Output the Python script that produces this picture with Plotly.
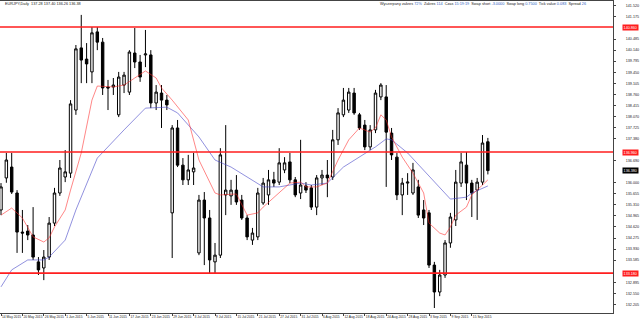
import plotly.graph_objects as go

symbol = "EURJPY,Daily"

opens = [135.15, 136.15, 136.49, 135.68, 134.46, 134.49, 134.37, 133.53, 133.34, 133.68,
         134.74, 135.68, 136.18, 136.30, 138.27, 140.21, 139.86, 139.46, 140.71, 140.39,
         138.99, 138.99, 138.12, 139.05, 138.83, 140.05, 139.77, 139.99, 139.99, 138.49,
         138.80, 138.58, 135.06, 137.71, 136.55, 136.09, 136.34, 133.81, 135.46, 134.90,
         133.53, 133.74, 135.62, 135.59, 135.77, 135.46, 134.90, 134.21, 134.31, 135.37,
         135.62, 136.09, 136.02, 136.40, 136.65, 136.09, 135.68, 135.90, 135.84, 135.24,
         136.15, 136.24, 136.18, 137.34, 138.12, 138.27, 138.80, 138.12, 137.80, 137.12,
         137.65, 138.68, 138.68, 137.55, 136.80, 135.62, 135.99, 135.68, 135.87, 135.15,
         135.06, 133.43, 132.59, 133.12, 134.12, 134.84, 135.99, 136.55, 135.99, 135.77,
         136.02, 137.28]
highs = [135.99, 136.93, 136.93, 135.77, 135.15, 134.68, 135.24, 133.68, 133.90, 134.93,
         135.84, 136.71, 137.02, 138.58, 140.30, 141.24, 140.36, 140.86, 140.86, 140.52,
         139.21, 139.27, 139.46, 139.46, 140.14, 140.83, 139.99, 140.77, 140.14, 139.05,
         139.05, 138.74, 137.80, 137.96, 136.77, 136.87, 136.93, 135.62, 135.71, 135.15,
         134.12, 137.08, 137.80, 136.09, 136.24, 135.62, 134.99, 134.59, 135.84, 136.15,
         136.40, 136.34, 137.08, 136.80, 136.93, 136.18, 137.34, 136.02, 135.93, 136.24,
         136.40, 136.71, 137.65, 138.33, 138.96, 138.96, 138.96, 138.18, 137.96, 137.80,
         138.90, 139.11, 139.05, 137.71, 136.93, 136.15, 136.30, 136.62, 136.09, 135.46,
         135.15, 133.53, 133.28, 134.21, 135.06, 136.40, 136.93, 136.96, 136.09, 136.15,
         137.49, 137.40]
lows = [134.99, 136.00, 135.65, 133.81, 133.81, 134.21, 133.59, 133.12, 132.96, 133.59,
        134.65, 135.59, 136.02, 136.15, 138.12, 139.11, 139.11, 139.11, 140.14, 138.74,
        138.27, 138.74, 138.05, 138.80, 138.74, 139.58, 139.15, 139.61, 138.33, 138.27,
        137.71, 138.27, 133.65, 136.49, 135.93, 135.93, 135.93, 133.74, 133.43, 133.18,
        133.18, 133.65, 134.99, 135.31, 135.31, 134.84, 134.21, 134.06, 134.21, 135.31,
        135.31, 135.87, 135.93, 136.30, 135.99, 135.55, 135.49, 135.68, 135.15, 134.99,
        135.93, 135.55, 136.09, 137.18, 138.05, 138.18, 138.12, 137.65, 137.02, 137.02,
        137.55, 138.58, 135.87, 136.71, 135.46, 134.99, 135.62, 135.62, 134.90, 134.68,
        133.34, 132.09, 132.46, 133.03, 133.97, 134.65, 135.87, 135.46, 134.93, 134.84,
        135.93, 136.26]
closes = [135.87, 136.71, 135.71, 134.46, 134.43, 134.37, 133.68, 133.28, 133.68, 134.74,
          135.68, 136.46, 136.34, 138.46, 140.18, 139.83, 139.71, 140.68, 140.39, 138.96,
          138.96, 139.05, 139.30, 139.36, 140.08, 139.77, 139.30, 140.02, 138.49, 138.83,
          138.58, 138.43, 137.71, 136.55, 136.09, 136.40, 136.46, 135.46, 134.90, 133.59,
          133.74, 136.87, 135.77, 135.77, 135.40, 134.90, 134.31, 134.43, 135.68, 135.99,
          136.09, 135.99, 136.62, 136.62, 136.09, 135.62, 135.93, 135.77, 135.24, 136.15,
          136.24, 136.15, 137.34, 138.18, 138.58, 138.83, 138.18, 137.71, 137.12, 137.65,
          138.80, 139.05, 137.58, 136.87, 135.62, 135.99, 136.02, 136.40, 134.99, 134.90,
          133.43, 132.59, 133.12, 134.12, 134.93, 136.02, 136.65, 135.99, 135.68, 136.02,
          137.24, 136.38]

# moving averages (bar index, value)
ma_fast_bars = [0, 2, 4, 6, 8, 9, 10, 12, 13, 15, 17, 18, 21, 23, 25, 27, 29, 30, 32, 35,
                37, 40, 41, 44, 46, 48, 49, 52, 54, 56, 57, 59, 61, 63, 65, 67, 69, 70, 71,
                72, 73, 75, 77, 79, 80, 82, 83, 84, 85, 87, 88, 90, 91]
ma_fast_vals = [134.99, 135.21, 134.90, 134.31, 134.15, 134.28, 134.62, 135.15, 135.77, 136.93,
                138.58, 139.02, 138.99, 139.05, 139.27, 139.49, 139.27, 138.96, 138.58, 137.96,
                136.71, 135.68, 135.62, 135.65, 134.99, 135.06, 135.24, 135.68, 135.99, 136.02,
                135.87, 135.87, 135.99, 136.71, 137.34, 137.71, 137.58, 137.71, 138.12,
                137.96, 137.43, 136.80, 136.30, 135.68, 134.74, 134.43, 134.37, 134.62, 134.99,
                135.24, 135.62, 135.93, 136.09]
ma_slow_bars = [0, 2, 5, 8, 9, 12, 14, 18, 23, 27, 31, 33, 37, 40, 43, 49, 52, 56, 58, 61,
                64, 67, 70, 72, 73, 76, 79, 82, 84, 87, 88, 91]
ma_slow_vals = [132.75, 133.28, 133.59, 133.59, 133.68, 134.21, 135.15, 136.77, 137.65, 138.33,
                138.36, 138.18, 137.43, 136.71, 136.49, 135.87, 135.87, 135.99, 135.93, 135.99,
                136.49, 136.80, 137.12, 137.37, 137.34, 136.93, 136.40, 135.87, 135.49, 135.55,
                135.68, 135.90]

levels = [140.86, 136.96, 133.18]

price_ticks = [141.520, 141.175, 140.485, 140.140, 139.795, 139.450, 139.105, 138.760,
               138.415, 138.070, 137.725, 137.380, 136.690, 136.000, 135.655, 135.310,
               134.965, 134.620, 134.275, 133.930, 133.585, 132.895, 132.550, 132.205]

date_bars = list(range(0, 92, 4))
date_labels = ["14 May 2015", "20 May 2015", "26 May 2015", "1 Jun 2015", "5 Jun 2015",
               "11 Jun 2015", "17 Jun 2015", "23 Jun 2015", "29 Jun 2015", "3 Jul 2015",
               "9 Jul 2015", "15 Jul 2015", "21 Jul 2015", "27 Jul 2015", "31 Jul 2015",
               "6 Aug 2015", "12 Aug 2015", "18 Aug 2015", "24 Aug 2015", "28 Aug 2015",
               "3 Sep 2015", "9 Sep 2015", "15 Sep 2015"]

info_pairs = [("Wyczerpany zakres", "72%"), ("Zakres", "114"), ("Czas", "15:19:19"),
              ("Swap short", "-3.0000"), ("Swap long", "0.7500"), ("Tick value", "0.083"),
              ("Spread", "26")]

FONT = "Liberation Sans Narrow, Liberation Sans, DejaVu Sans Condensed, sans-serif"
SMALL = 3.3
bars = list(range(len(opens)))

fig = go.Figure()
fig.add_trace(go.Candlestick(
    x=bars, open=opens, high=highs, low=lows, close=closes,
    increasing=dict(line=dict(color="black", width=1), fillcolor="white"),
    decreasing=dict(line=dict(color="black", width=1), fillcolor="black"),
    whiskerwidth=0, showlegend=False, hoverinfo="skip"))
fig.add_trace(go.Scatter(x=ma_slow_bars, y=ma_slow_vals, mode="lines",
                         line=dict(color="rgba(70,70,200,0.75)", width=0.8),
                         showlegend=False, hoverinfo="skip"))
fig.add_trace(go.Scatter(x=ma_fast_bars, y=ma_fast_vals, mode="lines",
                         line=dict(color="rgba(255,40,40,0.7)", width=0.8),
                         showlegend=False, hoverinfo="skip"))

for lv in levels:
    fig.add_shape(type="line", xref="paper", x0=0, x1=1, yref="y", y0=lv, y1=lv,
                  line=dict(color="rgb(255,30,30)", width=1.6))
    fig.add_annotation(xref="paper", x=639 / 613, xanchor="right", yref="y", y=lv,
                       text=f"{lv:.3f}", showarrow=False, bgcolor="rgb(255,30,30)",
                       font=dict(family=FONT, size=SMALL + 0.4, color="white"), borderpad=0.6)

fig.add_annotation(xref="paper", x=639 / 613, xanchor="right", yref="y", y=closes[-1],
                   text=f"{closes[-1]:.3f}", showarrow=False, bgcolor="black",
                   font=dict(family=FONT, size=SMALL + 0.4, color="white"), borderpad=0.6)

fig.add_annotation(xref="paper", x=3 / 613, xanchor="left", yref="paper", y=0.99,
                   yanchor="middle", showarrow=False,
                   text=f"{symbol}  {opens[-1]:.2f} {highs[-1]:.2f} {lows[-1]:.2f} {closes[-1]:.2f}",
                   font=dict(family=FONT, size=SMALL + 0.5, color="#222"))

info_text = "  ".join(f"{k} <span style='color:#3060c0'>{v}</span>" for k, v in info_pairs)
fig.add_annotation(xref="paper", x=588 / 613, xanchor="right", yref="paper", y=0.99,
                   yanchor="middle", showarrow=False, text=info_text,
                   font=dict(family=FONT, size=SMALL + 0.5, color="#222"))

fig.update_layout(
    width=640, height=323,
    margin=dict(l=0, r=27, t=1, b=10, autoexpand=False),
    paper_bgcolor="white", plot_bgcolor="white",
    boxgap=0.35,
    xaxis=dict(range=[-0.187, 114.39], rangeslider=dict(visible=False),
               showgrid=False, zeroline=False, showline=True, linecolor="#444",
               linewidth=1, mirror=True, tickmode="array", tickvals=date_bars,
               ticktext=date_labels, ticks="outside", ticklen=2, tickcolor="#444",
               tickangle=0, automargin=False,
               ticklabelposition="outside right",
               tickfont=dict(family=FONT, size=SMALL, color="#222")),
    yaxis=dict(range=[131.934, 141.674], side="right", showgrid=False, zeroline=False,
               showline=True, linecolor="#444", linewidth=1, mirror=True,
               tickmode="array", tickvals=price_ticks, automargin=False,
               ticktext=[f"{t:.3f}" for t in price_ticks], ticks="outside", ticklen=2,
               tickcolor="#444", ticklabelstandoff=9,
               tickfont=dict(family=FONT, size=SMALL + 0.4, color="#222")),
)

fig.write_html("out.html")
